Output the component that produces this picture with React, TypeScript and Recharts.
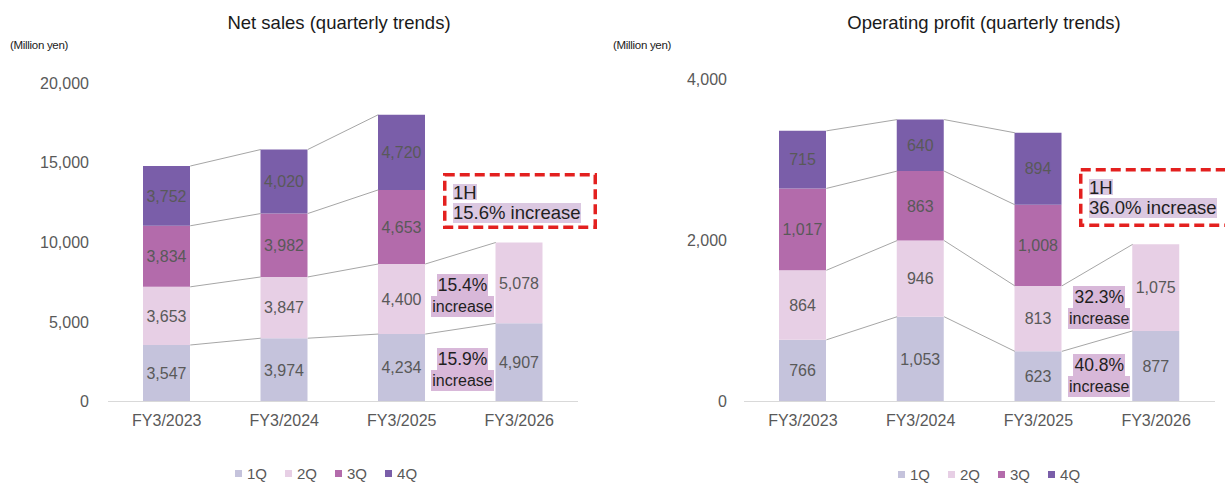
import React from "react";
import { Bar, BarChart, XAxis, YAxis, Legend, LabelList, ReferenceLine } from "recharts";

const years = ["FY3/2023", "FY3/2024", "FY3/2025", "FY3/2026"];
const quarters = ["1Q", "2Q", "3Q", "4Q"];

// net sales, million yen
const salesQ1 = [3547, 3974, 4234, 4907];
const salesQ2 = [3653, 3847, 4400, 5078];
const salesQ3 = [3834, 3982, 4653, null];
const salesQ4 = [3752, 4020, 4720, null];

// operating profit, million yen
const profitQ1 = [766, 1053, 623, 877];
const profitQ2 = [864, 946, 813, 1075];
const profitQ3 = [1017, 863, 1008, null];
const profitQ4 = [715, 640, 894, null];

const salesTicks = [0, 5000, 10000, 15000, 20000];
const profitTicks = [0, 2000, 4000];

// year-on-year growth for 1Q and 2Q, and for the first half
const salesGrowth = ["15.9%", "15.4%"];
const profitGrowth = ["40.8%", "32.3%"];
const salesHalfGrowth = "15.6%";
const profitHalfGrowth = "36.0%";

const quarterColors = ["#c5c3dc", "#e7cfe5", "#b36bab", "#7a5ea9"];
const FONT = '"Liberation Sans", Arial, sans-serif';
const TEXT_GRAY = "#595959";
const BAR_SIZE = 47;

type Series = (number | null)[];

const fmt = (v: any) => (v == null ? "" : Number(v).toLocaleString("en-US"));

function buildRows(series: Series[]) {
  return years.map((year, i) => {
    const row: any = { year };
    series.forEach((s, k) => {
      row["q" + (k + 1)] = s[i];
    });
    return row;
  });
}

// running totals per stack level, null where the quarter is missing
function cumulative(series: Series[]) {
  return series.map((_, k) =>
    years.map((_, i) => {
      let total = 0;
      for (let j = 0; j <= k; j++) {
        const v = series[j][i];
        if (v == null) return null;
        total += v;
      }
      return total;
    })
  );
}

const connectorShape = (p: any) => (
  <line
    x1={p.x1 + BAR_SIZE / 2}
    y1={p.y1}
    x2={p.x2 - BAR_SIZE / 2}
    y2={p.y2}
    stroke="#a6a6a6"
    strokeWidth={1}
  />
);

const growthShape = (pct: string) => (p: any) => {
  const cx = (p.x1 + p.x2) / 2 + 2;
  const cy = p.y1 + 5;
  const chip = { background: "#d8b8d9", padding: "0 1px", display: "block" };
  return (
    <foreignObject x={cx - 50} y={cy - 22} width={100} height={46}>
      <div
        style={{
          display: "flex",
          flexDirection: "column",
          alignItems: "center",
          fontFamily: FONT,
          color: "#1f1f1f",
        }}
      >
        <span style={{ ...chip, fontSize: 17.5, lineHeight: "22px", height: 22 }}>{pct}</span>
        <span style={{ ...chip, fontSize: 16, lineHeight: "21px", height: 21 }}>increase</span>
      </div>
    </foreignObject>
  );
};

const renderLegend = (props: any) => (
  <div style={{ display: "flex", alignItems: "center", height: 18, fontFamily: FONT }}>
    {(props.payload || []).map((item: any) => (
      <div key={item.value} style={{ display: "flex", alignItems: "center", marginRight: 18 }}>
        <span style={{ width: 7, height: 7, background: item.color, marginRight: 5 }} />
        <span style={{ fontSize: 15, color: TEXT_GRAY }}>{item.value}</span>
      </div>
    ))}
  </div>
);

interface QuarterChartProps {
  series: Series[];
  ticks: number[];
  growth: string[];
  width: number;
  axisWidth: number;
  tickGap: number;
  top: number;
  right: number;
  legendLeft: number;
  legendTop: number;
}

function QuarterChart({ series, ticks, growth, width, axisWidth, tickGap, top, right, legendLeft, legendTop }: QuarterChartProps) {
  const rows = buildRows(series);
  const levels = cumulative(series);

  const connectors: any[] = [];
  for (let i = 0; i < years.length - 1; i++) {
    levels.forEach((lv, k) => {
      if (lv[i] == null || lv[i + 1] == null) return;
      connectors.push(
        <ReferenceLine
          key={`c-${i}-${k}`}
          segment={[
            { x: years[i], y: lv[i] },
            { x: years[i + 1], y: lv[i + 1] },
          ]}
          shape={connectorShape}
        />
      );
    });
  }

  // growth chips sit between the last two bars, at the middle of each quarter
  const growthMarks = growth.map((pct, k) => {
    const mids = [2, 3].map((i) => {
      const below = k === 0 ? 0 : (levels[k - 1][i] as number);
      return below + (series[k][i] as number) / 2;
    });
    const mid = (mids[0] + mids[1]) / 2;
    return (
      <ReferenceLine
        key={`g-${k}`}
        segment={[
          { x: years[2], y: mid },
          { x: years[3], y: mid },
        ]}
        shape={growthShape(pct)}
      />
    );
  });

  return (
    <BarChart width={width} height={485} data={rows} margin={{ top, right, left: 0, bottom: 53.5 }}>
      <XAxis
        dataKey="year"
        height={30}
        axisLine={{ stroke: "#d9d9d9" }}
        tickLine={false}
        tickSize={0}
        tickMargin={13.5}
        tick={{ fill: TEXT_GRAY, fontSize: 16 }}
      />
      <YAxis
        width={axisWidth}
        domain={[0, ticks[ticks.length - 1]]}
        ticks={ticks}
        axisLine={false}
        tickLine={false}
        tickSize={0}
        tickMargin={tickGap}
        tick={{ fill: TEXT_GRAY, fontSize: 16 }}
        tickFormatter={fmt}
      />
      {quarters.map((q, k) => (
        <Bar
          key={q}
          dataKey={"q" + (k + 1)}
          name={q}
          stackId="fy"
          fill={quarterColors[k]}
          barSize={BAR_SIZE}
          isAnimationActive={false}
        >
          <LabelList dataKey={"q" + (k + 1)} position="center" fill={TEXT_GRAY} fontSize={16} formatter={fmt} />
        </Bar>
      ))}
      {connectors}
      {growthMarks}
      <Legend
        layout="horizontal"
        verticalAlign="middle"
        align="center"
        content={renderLegend}
        wrapperStyle={{ top: legendTop, left: legendLeft, width: 240, height: 18 }}
      />
    </BarChart>
  );
}

function HalfBox({ left, top, width, height, pct }: { left: number; top: number; width: number; height: number; pct: string }) {
  const chip = { background: "#dbc8e1", display: "inline-block", color: "#1f1f1f" };
  return (
    <div style={{ position: "absolute", left, top, width, height }}>
      <svg width={width} height={height} style={{ position: "absolute", left: 0, top: 0 }}>
        <rect
          x={1.75}
          y={1.75}
          width={width - 3.5}
          height={height - 3.5}
          fill="none"
          stroke="#e3201f"
          strokeWidth={3.5}
          strokeDasharray="10 5"
        />
      </svg>
      <div style={{ position: "absolute", left: 10, top: 9, fontSize: 18.5, whiteSpace: "nowrap" }}>
        <div style={{ height: 20 }}>
          <span style={{ ...chip, height: 16, lineHeight: "17px" }}>1H</span>
        </div>
        <div>
          <span style={{ ...chip, height: 20, lineHeight: "20px" }}>{pct} increase</span>
        </div>
      </div>
    </div>
  );
}

export default function App() {
  const heading = { position: "absolute" as const, fontSize: 18.5, color: "#1a1a1a", whiteSpace: "nowrap" as const };
  const unit = { position: "absolute" as const, fontSize: 11.5, color: "#1a1a1a", letterSpacing: -0.3 };
  return (
    <div
      style={{
        position: "absolute",
        left: 0,
        top: 0,
        width: 1225,
        height: 485,
        overflow: "hidden",
        background: "#fff",
        fontFamily: FONT,
      }}
    >
      <div style={{ position: "absolute", left: 0, top: 0 }}>
        <QuarterChart
          series={[salesQ1, salesQ2, salesQ3, salesQ4]}
          ticks={salesTicks}
          growth={salesGrowth}
          width={610}
          axisWidth={108}
          tickGap={19}
          top={83}
          right={32}
          legendLeft={235}
          legendTop={464}
        />
      </div>
      <div style={{ position: "absolute", left: 610, top: 0 }}>
        <QuarterChart
          series={[profitQ1, profitQ2, profitQ3, profitQ4]}
          ticks={profitTicks}
          growth={profitGrowth}
          width={615}
          axisWidth={134}
          tickGap={17}
          top={79.5}
          right={10}
          legendLeft={288}
          legendTop={465}
        />
      </div>

      <div style={{ ...heading, left: 339, top: 12, transform: "translateX(-50%)" }}>Net sales (quarterly trends)</div>
      <div style={{ ...heading, left: 984, top: 12, transform: "translateX(-50%)" }}>Operating profit (quarterly trends)</div>
      <div style={{ ...unit, left: 10, top: 39 }}>(Million yen)</div>
      <div style={{ ...unit, left: 613, top: 39 }}>(Million yen)</div>

      <HalfBox left={443} top={173} width={154} height={56} pct={salesHalfGrowth} />
      <HalfBox left={1079} top={168} width={165} height={59} pct={profitHalfGrowth} />
    </div>
  );
}
